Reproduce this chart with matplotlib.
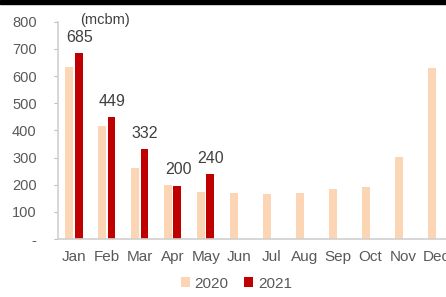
import numpy as np
import matplotlib
matplotlib.use("Agg")
import matplotlib.pyplot as plt
from matplotlib.patches import Rectangle

months = ["Jan", "Feb", "Mar", "Apr", "May", "Jun", "Jul", "Aug", "Sep", "Oct", "Nov", "Dec"]
vals_2020 = [635, 416, 260, 199, 173, 169, 165, 169, 185, 191, 303, 629]
vals_2021 = [685, 449, 332, 197, 240]
labels_2021 = ["685", "449", "332", "200", "240"]
yticks = [0, 100, 200, 300, 400, 500, 600, 700, 800]
ytick_labels = ["-", "100", "200", "300", "400", "500", "600", "700", "800"]

C2020 = "#FCD5B4"
C2021 = "#C00000"
GRAY = "#595959"

plt.rcParams["font.family"] = ["Liberation Sans", "DejaVu Sans"]

fig = plt.figure(figsize=(4.46, 2.97), dpi=100)
ax = fig.add_axes([0.129, 0.195, 0.886, 0.732])

x = np.arange(len(months))
w = 0.24
ax.bar(x - 0.14, vals_2020, width=w, color=C2020, label="2020")
x21 = np.arange(len(vals_2021))
ax.bar(x21 + 0.14, vals_2021, width=w, color=C2021, label="2021")

for xi, v, lab in zip(x21, vals_2021, labels_2021):
    ax.annotate(lab, (xi + 0.16, v), xytext=(0, 6), textcoords="offset points",
                ha="center", va="bottom", fontsize=11.5, color="#404040")

ax.set_xlim(-0.5, 11.5)
ax.set_ylim(0, 800)
ax.set_xticks(x)
ax.set_xticklabels(months, fontsize=11, color=GRAY)
ax.set_yticks(yticks)
ax.set_yticklabels(ytick_labels, fontsize=10.5, color=GRAY)
ax.tick_params(axis="x", length=0, pad=8)
ax.tick_params(axis="y", length=3, color="#BFBFBF", pad=12)

for s in ["top", "right"]:
    ax.spines[s].set_visible(False)
for s in ["left", "bottom"]:
    ax.spines[s].set_color("#D0D0D0")
    ax.spines[s].set_linewidth(1.2)

# unit label
ax.text(0.94, 808, "(mcbm)", ha="center", va="center", fontsize=10.5,
        color="#404040")

fig.legend(loc="center", bbox_to_anchor=(0.53, 0.045), ncol=2, frameon=False,
           fontsize=11, handlelength=0.6, handleheight=0.6, handletextpad=0.3,
           columnspacing=1.0, labelcolor=GRAY)

# dark strip at the top edge
fig.patches.append(Rectangle((0, 0.985), 1, 0.015, transform=fig.transFigure,
                             color="black", zorder=10))

fig.savefig("out.png", dpi=100)
